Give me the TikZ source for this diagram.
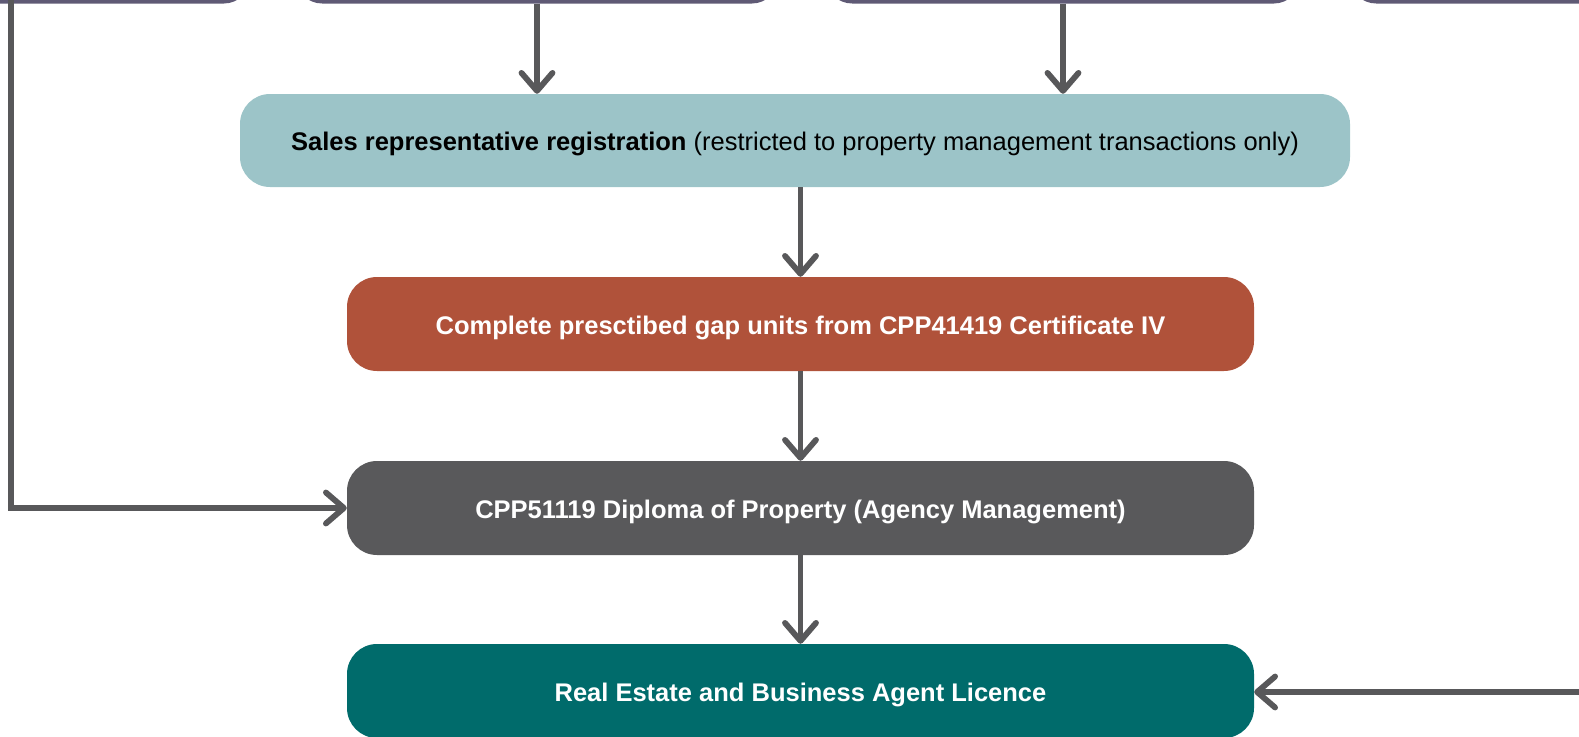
\documentclass[tikz,border=0pt]{standalone}
\usepackage{fontspec}
\setmainfont{Liberation Sans}
\usetikzlibrary{arrows.meta}
\definecolor{topborder}{HTML}{5F5A75}
\definecolor{salesfill}{HTML}{9CC4C8}
\definecolor{gapfill}{HTML}{B0523A}
\definecolor{dipfill}{HTML}{59595B}
\definecolor{licfill}{HTML}{006B6B}
\definecolor{arrowcol}{HTML}{58585A}
\tikzset{
  flowbox/.style={rectangle, rounded corners=30pt, draw=none, align=center,
    font=\fontsize{25.5}{30}\selectfont\bfseries, text=white, inner sep=0pt,
    text height=20pt, text depth=0pt},
  topbox/.style={rectangle, rounded corners=26pt, draw=none, fill=topborder},
  flowarrow/.style={draw=arrowcol, line width=5.8pt, line cap=butt,
    -{Straight Barb[length=18pt,width=31pt,round]}}
}
\begin{document}
\begin{tikzpicture}[x=1pt,y=-1pt]
\useasboundingbox (0,0) rectangle (1579,736);
\begin{scope}
\clip (0,0) rectangle (1579,736);
% partial boxes at the top
\node[topbox, minimum width=300pt, minimum height=100pt] (tb1) at (100,-46.5) {};
\node[topbox, minimum width=482pt, minimum height=100pt] (tb2) at (537,-46.5) {};
\node[topbox, minimum width=474pt, minimum height=100pt] (tb3) at (1063,-46.5) {};
\node[topbox, minimum width=300pt, minimum height=100pt] (tb4) at (1500,-46.5) {};

\node[flowbox, fill=salesfill, text=black, minimum width=1110pt, minimum height=93pt] (sales) at (795,140.5)
  {Sales representative registration \mdseries(restricted to property management transactions only)};
\node[flowbox, fill=gapfill, minimum width=907pt, minimum height=94pt] (gap) at (800.5,324)
  {Complete presctibed gap units from CPP41419 Certificate IV};
\node[flowbox, fill=dipfill, minimum width=907pt, minimum height=94pt] (dip) at (800.5,508)
  {CPP51119 Diploma of Property (Agency Management)};
\node[flowbox, fill=licfill, minimum width=907pt, minimum height=94pt] (lic) at (800.5,691)
  {Real Estate and Business Agent Licence};

\coordinate (leftin) at (11,0);
\coordinate (rightin) at (1579,692);

\draw[flowarrow] (tb2.south) -- (tb2.south |- sales.north);
\draw[flowarrow] (tb3.south) -- (tb3.south |- sales.north);
\draw[flowarrow] (gap.north |- sales.south) -- (gap.north);
\draw[flowarrow] (gap.south) -- (dip.north);
\draw[flowarrow] (dip.south) -- (lic.north);
\draw[flowarrow] (leftin) |- (dip.west);
\draw[flowarrow] (rightin) -- (lic.east |- rightin);
\end{scope}
\end{tikzpicture}
\end{document}
